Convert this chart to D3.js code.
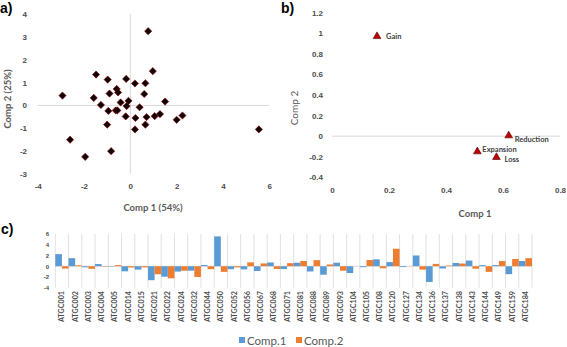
<!DOCTYPE html>
<html>
<head>
<meta charset="utf-8">
<script src="https://cdn.jsdelivr.net/npm/d3@7"></script>
<style>
  body { margin: 0; background: #fff; }
  svg { display: block; font-family: Lato, 'Open Sans', sans-serif; }
  .tick text { fill: #4d4d4d; font-weight: bold; }
</style>
</head>
<body>
<div id="chart"></div>
<script>
// genes and their two component scores (shared by panel a and panel c)
const genes = ['ATGC001', 'ATGC002', 'ATGC003', 'ATGC004', 'ATGC005', 'ATGC014',
  'ATGC015', 'ATGC021', 'ATGC022', 'ATGC024', 'ATGC032', 'ATGC044', 'ATGC050',
  'ATGC052', 'ATGC056', 'ATGC067', 'ATGC068', 'ATGC071', 'ATGC081', 'ATGC088',
  'ATGC089', 'ATGC093', 'ATGC104', 'ATGC105', 'ATGC108', 'ATGC120', 'ATGC127',
  'ATGC134', 'ATGC136', 'ATGC137', 'ATGC138', 'ATGC143', 'ATGC144', 'ATGC149',
  'ATGC159', 'ATGC184'];
const comp1 = [2.25, 1.5, -0.2, 0.4, -0.08, -0.95, -0.63, -2.6, -1.95, -1.0, -0.83, 0.22, 5.55,
  -0.56, -0.59, -0.9, 0.7, -0.53, 0.65, -0.98, -1.58, 0.65, -1.27, -0.18, 1.28, 0.77, -0.16,
  2.0, -2.93, -0.42, 0.6, 1.05, 0.2, 0.2, -1.48, 0.97];
const comp2 = [-0.44, 0.17, -0.48, -0.08, 0.2, -0.24, -0.22, -1.5, -2.25, -0.84, -2.0, -0.55, -1.05,
  -0.22, 0.72, 0.52, -0.51, 0.57, 0.97, 1.13, 0.33, -0.84, 0.02, 1.16, -0.38, 3.25, -0.03,
  -0.63, 0.43, 0.13, 0.5, -0.47, -1.05, 0.96, 1.35, 1.5];

// panel b: loadings of the four events
const events = ['Gain', 'Reduction', 'Expansion', 'Loss'];
const load1 = [0.158, 0.62, 0.51, 0.577];
const load2 = [0.97, 0.005, -0.15, -0.205];
const labelOffsets = [[9, 3], [6, 6], [5, 0], [8, 5]];

// tick labels
const ticksAx = [-4, -2, 0, 2, 4, 6];
const ticksAy = [-3, -2, -1, 0, 1, 2, 3, 4];
const ticksBx = [0, 0.2, 0.4, 0.6, 0.8];
const ticksBy = [-0.4, -0.2, 0, 0.2, 0.4, 0.6, 0.8, 1, 1.2];
const ticksCy = [-4, -2, 0, 2, 4, 6];
const seriesNames = ['Comp.1', 'Comp.2'];
const seriesColors = ['#5b9bd5', '#ed7d31'];

const W = 567, H = 347;
const grid = '#d9d9d9';
const textGray = '#595959';

const svg = d3.select('#chart').append('svg')
  .attr('width', W).attr('height', H);

const fmt = (d) => String(+d.toFixed(1));

function cleanAxis(g) {
  g.select('.domain').remove();
  g.selectAll('.tick line').remove();
}

// ---------- panel a ----------
const xA = d3.scaleLinear().domain([-4, 6]).range([37.7, 269.3]);
const yA = d3.scaleLinear().domain([-3, 4]).range([174, 14]);

const gA = svg.append('g');
gA.append('line')
  .attr('x1', xA(0)).attr('x2', xA(0)).attr('y1', yA(4)).attr('y2', yA(-3))
  .attr('stroke', grid);
gA.append('line')
  .attr('x1', xA(-4)).attr('x2', xA(6)).attr('y1', yA(0)).attr('y2', yA(0))
  .attr('stroke', grid);

gA.append('g')
  .attr('transform', 'translate(0, 180)')
  .call(d3.axisBottom(xA).tickValues(ticksAx).tickFormat(fmt).tickSize(0).tickPadding(3))
  .call(cleanAxis)
  .selectAll('text').style('font-size', '8px');

gA.append('g')
  .attr('transform', 'translate(27, 0)')
  .call(d3.axisLeft(yA).tickValues(ticksAy).tickFormat(fmt).tickSize(0).tickPadding(0))
  .call(cleanAxis)
  .selectAll('text').style('font-size', '8px');

gA.selectAll('path.pt')
  .data(genes)
  .join('path')
  .attr('class', 'pt')
  .attr('d', d3.symbol(d3.symbolSquare, 26))
  .attr('transform', (d, i) => `translate(${xA(comp1[i])}, ${yA(comp2[i])}) rotate(45)`)
  .attr('fill', '#0d0000')
  .attr('stroke', '#8b0000')
  .attr('stroke-width', 0.6);

gA.append('text')
  .attr('x', 153).attr('y', 211)
  .attr('text-anchor', 'middle')
  .attr('fill', textGray).attr('font-weight', 'bold').attr('font-size', '9.5px')
  .text('Comp 1 (54%)');

gA.append('text')
  .attr('transform', 'translate(11, 99) rotate(-90)')
  .attr('text-anchor', 'middle')
  .attr('fill', textGray).attr('font-weight', 'bold').attr('font-size', '9.5px')
  .text('Comp 2 (25%)');

// ---------- panel b ----------
const xB = d3.scaleLinear().domain([0, 0.8]).range([332, 560]);
const yB = d3.scaleLinear().domain([-0.4, 1.2]).range([177.3, 12.7]);

const gB = svg.append('g');
gB.append('line')
  .attr('x1', xB(0)).attr('x2', xB(0.8)).attr('y1', yB(0)).attr('y2', yB(0))
  .attr('stroke', grid);

gB.append('g')
  .attr('transform', 'translate(0, 184)')
  .call(d3.axisBottom(xB).tickValues(ticksBx).tickFormat(fmt).tickSize(0).tickPadding(3))
  .call(cleanAxis)
  .selectAll('text').style('font-size', '8px');

gB.append('g')
  .attr('transform', 'translate(323, 0)')
  .call(d3.axisLeft(yB).tickValues(ticksBy).tickFormat(fmt).tickSize(0).tickPadding(0))
  .call(cleanAxis)
  .selectAll('text').style('font-size', '8px');

gB.selectAll('path.tri')
  .data(events)
  .join('path')
  .attr('class', 'tri')
  .attr('d', d3.symbol(d3.symbolTriangle, 26))
  .attr('transform', (d, i) => `translate(${xB(load1[i])}, ${yB(load2[i])})`)
  .attr('fill', '#c00000')
  .attr('stroke', '#4d0000')
  .attr('stroke-width', 0.6);

gB.selectAll('text.lab')
  .data(events)
  .join('text')
  .attr('class', 'lab')
  .attr('x', (d, i) => xB(load1[i]) + labelOffsets[i][0])
  .attr('y', (d, i) => yB(load2[i]) + labelOffsets[i][1])
  .attr('fill', '#404040').attr('font-weight', 'bold').attr('font-size', '7.5px')
  .text((d) => d);

gB.append('text')
  .attr('x', 475).attr('y', 217)
  .attr('text-anchor', 'middle')
  .attr('fill', textGray).attr('font-weight', 'bold').attr('font-size', '9.5px')
  .text('Comp 1');

gB.append('text')
  .attr('transform', 'translate(298, 108) rotate(-90)')
  .attr('text-anchor', 'middle')
  .attr('fill', textGray).attr('font-size', '10px')
  .text('Comp 2');

// ---------- panel c ----------
const xC = d3.scaleBand().domain(genes).range([55.3, 532]).padding(0);
const xSub = d3.scaleBand().domain(seriesNames).range([0, xC.bandwidth()]);
const yC = d3.scaleLinear().domain([-4, 6]).range([287.7, 234]);

const gC = svg.append('g');
gC.selectAll('line.vgrid')
  .data(genes.concat(['end']))
  .join('line')
  .attr('class', 'vgrid')
  .attr('x1', (d, i) => xC.range()[0] + i * xC.step())
  .attr('x2', (d, i) => xC.range()[0] + i * xC.step())
  .attr('y1', yC(6)).attr('y2', yC(-4))
  .attr('stroke', grid).attr('stroke-width', 0.8);

gC.append('line')
  .attr('x1', xC.range()[0]).attr('x2', xC.range()[1])
  .attr('y1', yC(0)).attr('y2', yC(0))
  .attr('stroke', grid).attr('stroke-width', 0.8);

const seriesVals = [comp1, comp2];
seriesNames.forEach((s, k) => {
  gC.selectAll(`rect.s${k}`)
    .data(genes)
    .join('rect')
    .attr('class', `s${k}`)
    .attr('x', (d) => xC(d) + xSub(s))
    .attr('width', xSub.bandwidth())
    .attr('y', (d, i) => yC(Math.max(0, seriesVals[k][i])))
    .attr('height', (d, i) => Math.abs(yC(seriesVals[k][i]) - yC(0)))
    .attr('fill', seriesColors[k]);
});

gC.append('g')
  .attr('transform', 'translate(49, 0)')
  .call(d3.axisLeft(yC).tickValues(ticksCy).tickFormat(fmt).tickSize(0).tickPadding(0))
  .call(cleanAxis)
  .selectAll('text').style('font-size', '6px');

gC.selectAll('text.gene')
  .data(genes)
  .join('text')
  .attr('class', 'gene')
  .attr('transform', (d) => `translate(${xC(d) + xC.bandwidth() / 2}, 291) rotate(-90)`)
  .attr('text-anchor', 'end')
  .attr('dy', '0.35em')
  .attr('fill', '#4d4d4d').attr('font-weight', 'bold').attr('font-size', '7.2px')
  .text((d) => d);

// legend
const legendX = [239, 296];
const lg = gC.selectAll('g.leg')
  .data(seriesNames)
  .join('g')
  .attr('class', 'leg')
  .attr('transform', (d, i) => `translate(${legendX[i]}, 337)`);
lg.append('rect')
  .attr('width', 6).attr('height', 6)
  .attr('fill', (d, i) => seriesColors[i]);
lg.append('text')
  .attr('x', 8).attr('y', 7.5)
  .attr('fill', textGray).attr('font-size', '11.5px')
  .text((d) => d);

// panel letters
const letters = [['a)', 0, 13], ['b)', 281, 13], ['c)', 1, 234]];
svg.selectAll('text.letter')
  .data(letters)
  .join('text')
  .attr('class', 'letter')
  .attr('x', (d) => d[1]).attr('y', (d) => d[2])
  .attr('font-family', 'Liberation Sans, Arial, sans-serif')
  .attr('font-weight', 'bold').attr('font-size', '14px').attr('fill', '#000')
  .text((d) => d[0]);
</script>
</body>
</html>
